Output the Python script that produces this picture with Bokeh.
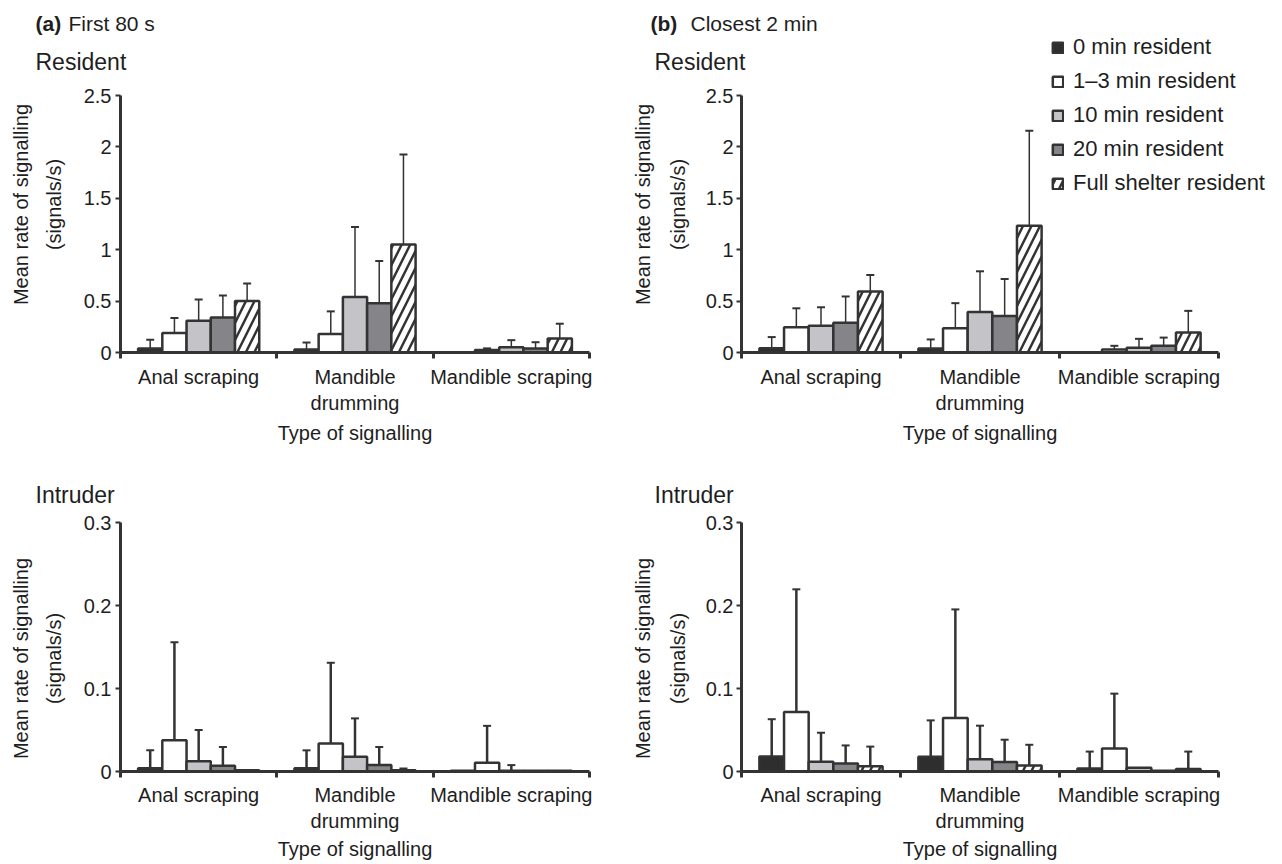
import math
from bokeh.plotting import figure
from bokeh.models import (Range1d, LinearAxis, FixedTicker, ColumnDataSource, Whisker,
                          TeeHead, Label, Legend, LegendItem, NumeralTickFormatter)
from bokeh.layouts import column, row
from bokeh.embed import file_html
from bokeh.resources import INLINE

# ---------------- data ----------------
categories = ["Anal scraping", "Mandible\ndrumming", "Mandible scraping"]
series = ["0 min resident", "1\u20133 min resident", "10 min resident",
          "20 min resident", "Full shelter resident"]

# values indexed [series][category]
a_res_mean = [[0.04, 0.03, 0.0], [0.19, 0.18, 0.025], [0.31, 0.54, 0.05],
              [0.34, 0.48, 0.04], [0.50, 1.05, 0.135]]
a_res_se = [[0.085, 0.067, 0.0], [0.145, 0.22, 0.015], [0.205, 0.68, 0.07],
            [0.215, 0.41, 0.06], [0.17, 0.875, 0.145]]

b_res_mean = [[0.042, 0.04, 0.0], [0.245, 0.235, 0.03], [0.26, 0.395, 0.045],
              [0.29, 0.356, 0.065], [0.594, 1.234, 0.195]]
b_res_se = [[0.108, 0.087, 0.0], [0.185, 0.245, 0.035], [0.18, 0.395, 0.088],
            [0.255, 0.359, 0.08], [0.16, 0.923, 0.21]]

a_int_mean = [[0.004, 0.004, 0.001], [0.0376, 0.0336, 0.0105], [0.0125, 0.0178, 0.001],
              [0.0069, 0.0077, 0.001], [0.0015, 0.0016, 0.001]]
a_int_se = [[0.0215, 0.0215, 0.0], [0.118, 0.0974, 0.0445], [0.0375, 0.0462, 0.0067],
            [0.0226, 0.0218, 0.0], [0.0, 0.002, 0.0]]

b_int_mean = [[0.018, 0.0177, 0.0036], [0.0717, 0.0644, 0.0278], [0.0117, 0.0149, 0.0044],
              [0.0097, 0.0113, 0.001], [0.0064, 0.0072, 0.003]]
b_int_se = [[0.045, 0.0439, 0.0204], [0.1478, 0.1309, 0.066], [0.035, 0.0403, 0.0],
            [0.0217, 0.027, 0.0], [0.0236, 0.025, 0.021]]

res_ticks = [0, 0.5, 1, 1.5, 2, 2.5]
int_ticks = [0, 0.1, 0.2, 0.3]

# ---------------- styles / layout (page pixels) ----------------
FONT = "Liberation Sans"
TXT = "#1e1e1e"
AX = "#333333"
FILLS = ["#2e2e2e", "#ffffff", "#c4c4c8", "#848489", "#ffffff"]
HATCH = [None, None, None, None, "/"]
BW = 0.155

SPLIT_X, SPLIT_Y, TOT_W, TOT_H = 612, 460, 1280, 862
RECT_A = (0, 0, SPLIT_X, SPLIT_Y)
RECT_B = (SPLIT_X, 0, TOT_W - SPLIT_X, SPLIT_Y)
RECT_C = (0, SPLIT_Y, SPLIT_X, TOT_H - SPLIT_Y)
RECT_D = (SPLIT_X, SPLIT_Y, TOT_W - SPLIT_X, TOT_H - SPLIT_Y)
# (x of y-axis, x of axis end, y of zero line, y of top tick)
AXES_A = (120, 589, 352, 95)
AXES_B = (741, 1218, 352, 95)
AXES_C = (120, 589, 771, 522)
AXES_D = (741, 1218, 771, 522)


def add_text(p, rect, sx, sy, text, size, bold=False, align="left", angle=0.0, lh=1.2):
    L, T, W, H = rect
    p.add_layout(Label(x=sx - L, y=(T + H) - sy, x_units="screen", y_units="screen",
                       text=text, text_font=FONT, text_font_size=size,
                       text_font_style="bold" if bold else "normal",
                       text_color=TXT, text_baseline="middle", text_align=align,
                       angle=angle, text_line_height=lh))


def make_panel(rect, axes, means, ses, yticks, stem_w, ytick_standoff, cat_standoff,
               ylab_x, ylab_y, ylab_lh, xlab_y, legend_at=None):
    L, T, W, H = rect
    x0s, x3s, y0s, yts = axes
    n = len(categories)
    ymax = yticks[-1]
    ppx = (x3s - x0s) / n
    ppy = (y0s - yts) / ymax
    xr = Range1d(-(x0s - L) / ppx, n + (L + W - x3s) / ppx)
    yr = Range1d(-(T + H - y0s) / ppy, ymax + (yts - T) / ppy)
    p = figure(width=W, height=H, x_range=xr, y_range=yr, x_axis_type=None,
               y_axis_type=None, toolbar_location=None, output_backend="svg",
               min_border=0, min_border_left=0, min_border_right=0,
               min_border_top=0, min_border_bottom=0)
    p.title.visible = False
    p.outline_line_color = None
    p.background_fill_color = "white"
    p.border_fill_color = "white"

    ya = LinearAxis(ticker=FixedTicker(ticks=yticks),
                    formatter=NumeralTickFormatter(format="0.[0]"),
                    fixed_location=0, bounds=(0, ymax))
    ya.axis_line_width = 3
    ya.axis_line_color = AX
    ya.major_tick_out = 5
    ya.major_tick_in = 0
    ya.major_tick_line_width = 2
    ya.major_tick_line_color = AX
    ya.minor_tick_line_color = None
    ya.major_label_standoff = ytick_standoff
    ya.major_label_text_font = FONT
    ya.major_label_text_font_size = "20px"
    ya.major_label_text_color = TXT
    p.add_layout(ya, "left")

    xa1 = LinearAxis(ticker=FixedTicker(ticks=list(range(n + 1))),
                     major_label_overrides={i: "" for i in range(n + 1)},
                     fixed_location=0, bounds=(0, n))
    xa1.axis_line_width = 3
    xa1.axis_line_color = AX
    xa1.major_tick_out = 6
    xa1.major_tick_in = 0
    xa1.major_tick_line_width = 3
    xa1.major_tick_line_color = AX
    xa1.minor_tick_line_color = None
    xa1.major_label_standoff = 0
    xa1.major_label_text_font_size = "0px"
    p.add_layout(xa1, "below")

    centers = [i + 0.5 for i in range(n)]
    xa2 = LinearAxis(ticker=FixedTicker(ticks=centers),
                     major_label_overrides={c: lab for c, lab in zip(centers, categories)},
                     fixed_location=0, bounds=(0, n))
    xa2.axis_line_color = None
    xa2.major_tick_line_color = None
    xa2.minor_tick_line_color = None
    xa2.major_tick_out = 0
    xa2.major_tick_in = 0
    xa2.major_label_standoff = cat_standoff
    xa2.major_label_text_font = FONT
    xa2.major_label_text_font_size = "20px"
    xa2.major_label_text_color = TXT
    xa2.major_label_text_line_height = 1.2
    p.add_layout(xa2, "below")

    rends = []
    for j in range(len(series)):
        xs = [i + 0.5 + (j - 2) * BW for i in range(n)]
        src = ColumnDataSource(dict(x=xs, top=means[j]))
        kw = {}
        if HATCH[j]:
            kw = dict(hatch_pattern=HATCH[j], hatch_color=AX, hatch_weight=2.5,
                      hatch_scale=17)
        r = p.vbar(x="x", top="top", width=BW, bottom=0, source=src,
                   fill_color=FILLS[j], line_color=AX, line_width=2.5, **kw)
        rends.append(r)
        wx = [x for x, s in zip(xs, ses[j]) if s > 0]
        wl = [m for m, s in zip(means[j], ses[j]) if s > 0]
        wu = [m + s for m, s in zip(means[j], ses[j]) if s > 0]
        if wx:
            wsrc = ColumnDataSource(dict(x=wx, lo=wl, hi=wu))
            wh = Whisker(base="x", lower="lo", upper="hi", source=wsrc,
                         dimension="height", line_color=AX, line_width=stem_w,
                         lower_head=None,
                         upper_head=TeeHead(size=8, line_color=AX, line_width=2))
            p.add_layout(wh)

    # axis titles
    add_text(p, rect, ylab_x, ylab_y, "Mean rate of signalling\n(signals/s)",
             "20px", align="center", angle=math.pi / 2, lh=ylab_lh)
    add_text(p, rect, (x0s + x3s) / 2, xlab_y, "Type of signalling", "20px", align="center")

    if legend_at is not None:
        lx, ltop = legend_at
        items = [LegendItem(label=s, renderers=[r]) for s, r in zip(series, rends)]
        row_h, gap = 26, 8
        leg_h = len(series) * row_h + (len(series) - 1) * gap
        leg = Legend(items=items, location=(lx - L, (T + H) - (ltop + leg_h)))
        leg.border_line_color = None
        leg.background_fill_alpha = 0
        leg.padding = 0
        leg.margin = 0
        leg.spacing = gap
        leg.label_height = row_h
        leg.glyph_height = 13
        leg.glyph_width = 13
        leg.label_standoff = 9
        leg.label_text_font = FONT
        leg.label_text_font_size = "22px"
        leg.label_text_color = TXT
        leg.label_text_baseline = "middle"
        p.add_layout(leg)
    return p


pA = make_panel(RECT_A, AXES_A, a_res_mean, a_res_se, res_ticks, 1.5, 4, 13,
                37, 204, 1.5, 432)
pB = make_panel(RECT_B, AXES_B, b_res_mean, b_res_se, res_ticks, 1.5, 3, 13,
                660, 204, 1.6, 432, legend_at=(1051, 34))
pC = make_panel(RECT_C, AXES_C, a_int_mean, a_int_se, int_ticks, 2.5, 4, 12,
                37, 658, 1.5, 848)
pD = make_panel(RECT_D, AXES_D, b_int_mean, b_int_se, int_ticks, 2.5, 3, 12,
                660, 658, 1.6, 848)

add_text(pA, RECT_A, 35, 23, "(a)", "21px", bold=True)
add_text(pA, RECT_A, 68, 23, "First 80 s", "21px")
add_text(pA, RECT_A, 35, 61, "Resident", "23px")
add_text(pB, RECT_B, 650, 23, "(b)", "21px", bold=True)
add_text(pB, RECT_B, 690, 23, "Closest 2 min", "21px")
add_text(pB, RECT_B, 654, 61, "Resident", "23px")
add_text(pC, RECT_C, 35, 494, "Intruder", "23px")
add_text(pD, RECT_D, 654, 494, "Intruder", "23px")

layout = column(row(pA, pB), row(pC, pD))
open("out.html", "w").write(file_html(layout, INLINE))
